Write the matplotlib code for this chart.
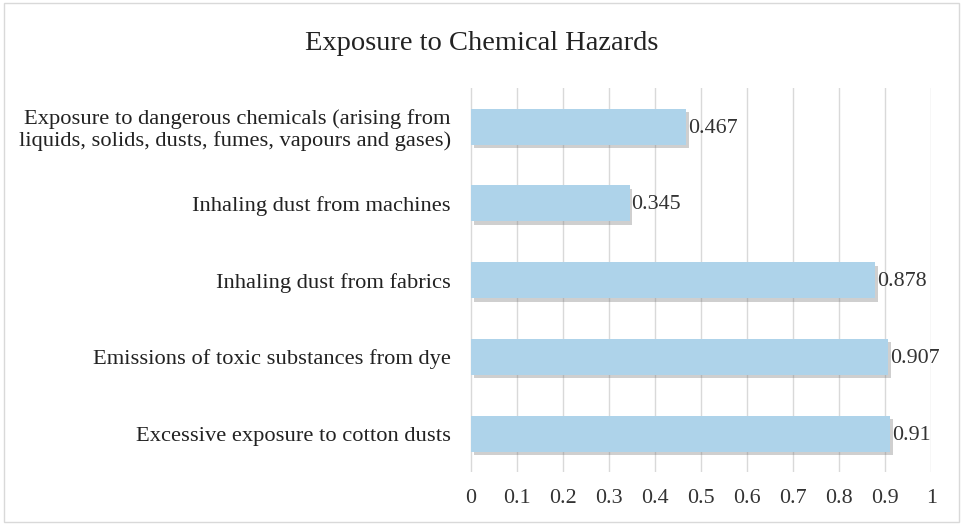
import matplotlib
matplotlib.use("Agg")
import matplotlib.pyplot as plt
import matplotlib.patheffects as pe
from matplotlib.patches import Rectangle

categories = [
    "Exposure to dangerous chemicals (arising from\nliquids, solids, dusts, fumes, vapours and gases)",
    "Inhaling dust from machines",
    "Inhaling dust from fabrics",
    "Emissions of toxic substances from dye",
    "Excessive exposure to cotton dusts",
]
values = [0.467, 0.345, 0.878, 0.907, 0.91]
value_labels = ["0.467", "0.345", "0.878", "0.907", "0.91"]
xticks = [0, 0.1, 0.2, 0.3, 0.4, 0.5, 0.6, 0.7, 0.8, 0.9, 1]
xtick_labels = ["0", "0.1", "0.2", "0.3", "0.4", "0.5", "0.6", "0.7", "0.8", "0.9", "1"]

plt.rcParams['font.family'] = ['Liberation Serif', 'DejaVu Serif']

fig = plt.figure(figsize=(9.63, 5.25), dpi=100)
ax = fig.add_axes([0.487, 0.101, 0.48, 0.731])

ypos = list(range(len(categories)))[::-1]
bars = ax.barh(ypos, values, height=0.47, color="#AED3EA", zorder=3,
               path_effects=[pe.SimplePatchShadow(offset=(2, -2.5), shadow_rgbFace="#777777", alpha=0.35), pe.Normal()])

for y, v, lab in zip(ypos, values, value_labels):
    ax.text(v + 0.004, y - 0.02, lab, va="center", ha="left", fontsize=15.8, color="#333333", zorder=4)

ax.set_ylim(-0.5, len(categories) - 0.5)
ax.set_xticks(xticks)
ax.set_xticklabels(xtick_labels, fontsize=15.8, color="#333333")
ax.set_yticks(ypos)
ax.set_yticklabels(categories, fontsize=16.2, color="#222222", linespacing=1.15)
ax.tick_params(axis="y", length=0, pad=13)
ax.tick_params(axis="x", length=0, pad=12)
ax.grid(axis="x", color="#D9D9D9", linewidth=1, zorder=0)
for s in ax.spines.values():
    s.set_visible(False)
ax.set_xlim(-0.004, 1.0)

fig.text(0.5, 0.917, "Exposure to Chemical Hazards", ha="center", va="center", fontsize=20.5, color="#222222")

fig.patches.append(Rectangle((0.004, 0.006), 0.992, 0.988, transform=fig.transFigure,
                             fill=False, edgecolor="#D9D9D9", linewidth=1))

fig.savefig("out.png", dpi=100)
